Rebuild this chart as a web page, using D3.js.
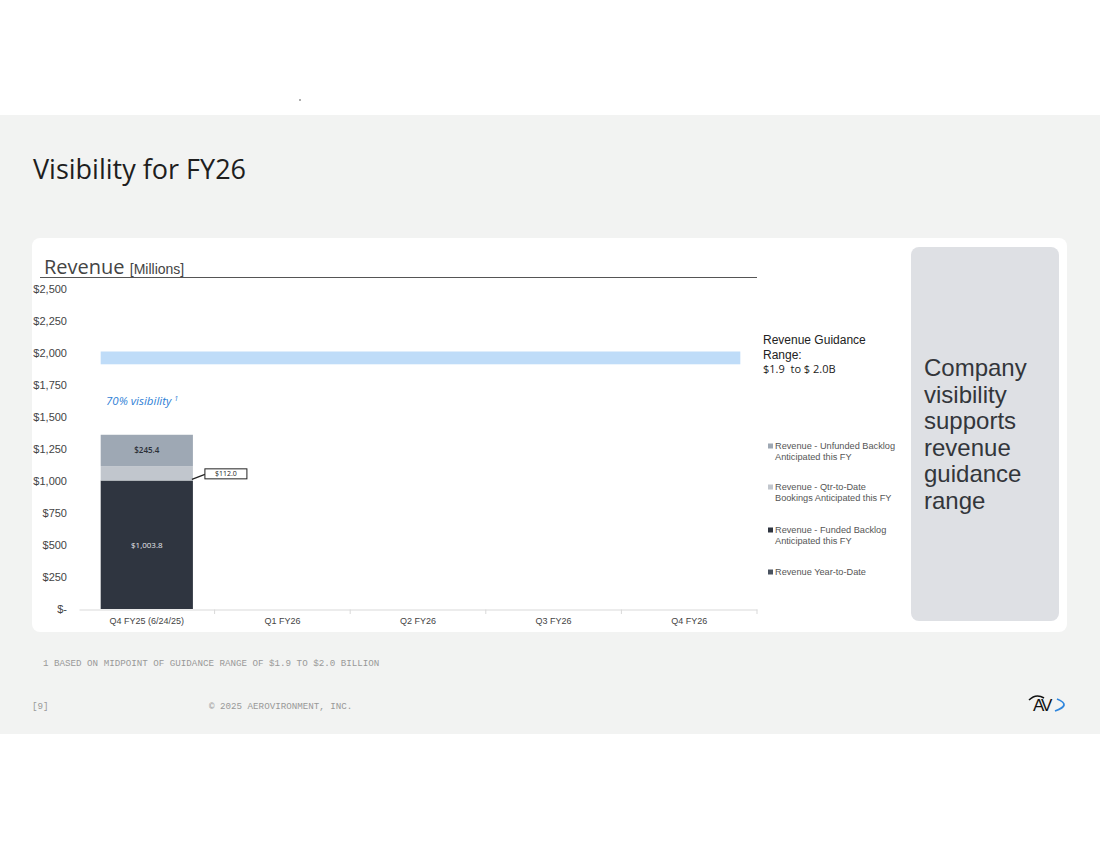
<!DOCTYPE html>
<html>
<head>
<meta charset="utf-8">
<script src="https://cdn.jsdelivr.net/npm/d3@7"></script>
<style>
  html, body { margin: 0; padding: 0; background: #fff; }
  svg { display: block; }
</style>
</head>
<body>
<div id="chart"></div>
<script>
// Revenue visibility for FY26 - stacked column with guidance band

const categories = ['Q4 FY25 (6/24/25)', 'Q1 FY26', 'Q2 FY26', 'Q3 FY26', 'Q4 FY26'];
const revenueYearToDate = [0, 0, 0, 0, 0];
const fundedBacklog = [1003.8, 0, 0, 0, 0];
const qtrBookings = [112.0, 0, 0, 0, 0];
const unfundedBacklog = [245.4, 0, 0, 0, 0];
const guidanceRange = [1900, 2000];
const yTicks = [0, 250, 500, 750, 1000, 1250, 1500, 1750, 2000, 2250, 2500];

const seriesInfo = [
    { key: 'ytd', name: 'Revenue Year-to-Date', values: revenueYearToDate, color: '#4a5360' },
    { key: 'funded', name: 'Revenue - Funded Backlog Anticipated this FY', values: fundedBacklog, color: '#2f3540' },
    { key: 'qtr', name: 'Revenue - Qtr-to-Date Bookings Anticipated this FY', values: qtrBookings, color: '#c1c6cd' },
    { key: 'unfunded', name: 'Revenue - Unfunded Backlog Anticipated this FY', values: unfundedBacklog, color: '#9ea8b4' }
];

const width = 1100;
const height = 849;
const arial = '"Liberation Sans", Arial, sans-serif';
const body = '"Open Sans", "Noto Sans", sans-serif';

const svg = d3.select('#chart')
    .append('svg')
    .attr('width', width)
    .attr('height', height);

// Page background bands
svg.append('rect').attr('x', 0).attr('y', 0).attr('width', width).attr('height', height).attr('fill', '#ffffff');
svg.append('rect').attr('x', 0).attr('y', 115).attr('width', width).attr('height', 619).attr('fill', '#f2f3f2');
svg.append('circle').attr('cx', 300).attr('cy', 100).attr('r', 0.7).attr('fill', '#222');

// Slide title
svg.append('text')
    .attr('x', 33)
    .attr('y', 179)
    .attr('font-family', body)
    .attr('font-size', '27px')
    .attr('fill', '#1e1e1e')
    .text('Visibility for FY26');

// White card
svg.append('rect')
    .attr('x', 32).attr('y', 238)
    .attr('width', 1035).attr('height', 394)
    .attr('rx', 8)
    .attr('fill', '#ffffff');

// Right side panel
svg.append('rect')
    .attr('x', 911).attr('y', 247)
    .attr('width', 148).attr('height', 374)
    .attr('rx', 8)
    .attr('fill', '#dee0e4');

const panelLines = ['Company', 'visibility', 'supports', 'revenue', 'guidance', 'range'];
const panelText = svg.append('text')
    .attr('x', 924)
    .attr('y', 376)
    .attr('font-family', arial)
    .attr('font-size', '24px')
    .attr('fill', '#33363b');
panelLines.forEach((t, i) => {
    panelText.append('tspan').attr('x', 924).attr('dy', i === 0 ? 0 : 26.5).text(t);
});

// Chart header
const header = svg.append('text')
    .attr('x', 44)
    .attr('y', 274)
    .attr('fill', '#444');
header.append('tspan')
    .attr('font-family', body)
    .attr('font-size', '20px')
    .text('Revenue ');
header.append('tspan')
    .attr('font-family', arial)
    .attr('font-size', '14px')
    .text('[Millions]');

svg.append('line')
    .attr('x1', 40).attr('x2', 757)
    .attr('y1', 277.5).attr('y2', 277.5)
    .attr('stroke', '#555')
    .attr('stroke-width', 1);

// Scales
const xScale = d3.scaleBand()
    .domain(categories)
    .range([79, 757])
    .paddingInner(0.32)
    .paddingOuter(0.16);

const yScale = d3.scaleLinear()
    .domain([0, 2500])
    .range([609, 289]);

const g = svg.append('g');

// Y axis (labels only)
const yAxis = g.append('g')
    .attr('transform', 'translate(67,0)')
    .attr('font-family', arial)
    .attr('font-size', 11)
    .call(d3.axisLeft(yScale)
        .tickValues(yTicks)
        .tickSize(0)
        .tickPadding(0)
        .tickFormat(d => d === 0 ? '$-' : '$' + d3.format(',')(d)));
yAxis.attr('font-family', arial).attr('font-size', 11);
yAxis.select('.domain').remove();
yAxis.selectAll('text').attr('fill', '#444');

// Guidance band
g.append('rect')
    .attr('x', xScale(categories[0]))
    .attr('width', xScale(categories[categories.length - 1]) + xScale.bandwidth() + 5 - xScale(categories[0]))
    .attr('y', yScale(guidanceRange[1]) - 1.5)
    .attr('height', yScale(guidanceRange[0]) - yScale(guidanceRange[1]))
    .attr('fill', '#bfdcf8');

// Stacked bars
const stackData = categories.map((c, i) => {
    const row = { category: c };
    seriesInfo.forEach(s => { row[s.key] = s.values[i]; });
    return row;
});
const stacked = d3.stack().keys(seriesInfo.map(s => s.key))(stackData);

stacked.forEach((layer, li) => {
    g.selectAll('.bar-' + layer.key)
        .data(layer)
        .enter()
        .append('rect')
        .attr('x', d => xScale(d.data.category))
        .attr('width', xScale.bandwidth())
        .attr('y', d => yScale(d[1]))
        .attr('height', d => yScale(d[0]) - yScale(d[1]))
        .attr('fill', seriesInfo[li].color);
});

// X axis
const xAxis = g.append('g')
    .attr('transform', 'translate(0,609.5)')
    .call(d3.axisBottom(xScale).tickSize(0).tickPadding(8));
xAxis.attr('font-family', arial).attr('font-size', 9);
xAxis.select('.domain').attr('stroke', '#d9d9d9');
xAxis.selectAll('text').attr('fill', '#444');
// Category separators
const sepPositions = categories.map((c, i) => 79 + (i + 1) * ((757 - 79) / categories.length));
g.selectAll('.sep')
    .data(sepPositions)
    .enter()
    .append('line')
    .attr('x1', d => d).attr('x2', d => d)
    .attr('y1', 609.5).attr('y2', 614)
    .attr('stroke', '#d9d9d9');

// Data labels
const c0 = categories[0];
const cx0 = xScale(c0) + xScale.bandwidth() / 2;
const fundedTop = revenueYearToDate[0] + fundedBacklog[0];
const qtrTop = fundedTop + qtrBookings[0];
const unfundedTop = qtrTop + unfundedBacklog[0];

g.append('text')
    .attr('x', cx0)
    .attr('y', yScale((revenueYearToDate[0] + fundedTop) / 2) + 3)
    .attr('text-anchor', 'middle')
    .attr('font-family', body)
    .attr('font-size', '8px')
    .attr('fill', '#e6e8ec')
    .text('$' + d3.format(',.1f')(fundedBacklog[0]));

g.append('text')
    .attr('x', cx0)
    .attr('y', yScale((qtrTop + unfundedTop) / 2) + 3)
    .attr('text-anchor', 'middle')
    .attr('font-family', body)
    .attr('font-size', '8px')
    .attr('font-weight', '600')
    .attr('fill', '#2b3038')
    .text('$' + d3.format(',.1f')(unfundedBacklog[0]));

// Callout for qtr-to-date bookings
const barRight = xScale(c0) + xScale.bandwidth();
const qMid = yScale((fundedTop + qtrTop) / 2);
g.append('line')
    .attr('x1', barRight - 1).attr('y1', qMid + 6)
    .attr('x2', barRight + 12).attr('y2', qMid + 1)
    .attr('stroke', '#222')
    .attr('stroke-width', 1.2);
g.append('rect')
    .attr('x', barRight + 12).attr('y', qMid - 4.5)
    .attr('width', 42).attr('height', 10)
    .attr('fill', '#fff')
    .attr('stroke', '#222')
    .attr('stroke-width', 1);
g.append('text')
    .attr('x', barRight + 33).attr('y', qMid + 3)
    .attr('text-anchor', 'middle')
    .attr('font-family', body)
    .attr('font-size', '7px')
    .attr('fill', '#222')
    .text('$' + d3.format(',.1f')(qtrBookings[0]));

// Visibility annotation
const vis = g.append('text')
    .attr('x', 106)
    .attr('y', 405)
    .attr('font-family', body)
    .attr('font-style', 'italic')
    .attr('font-size', '11.5px')
    .attr('fill', '#2f7fd6');
vis.append('tspan').text('70% visibility ');
vis.append('tspan').attr('font-size', '7px').attr('dy', -4).text('1');

// Guidance text
const gt = svg.append('text')
    .attr('font-family', arial)
    .attr('font-size', '12px')
    .attr('fill', '#222');
gt.append('tspan').attr('x', 763).attr('y', 344).text('Revenue Guidance');
gt.append('tspan').attr('x', 763).attr('y', 359).text('Range:');
svg.append('text')
    .attr('x', 763).attr('y', 373)
    .attr('font-family', body)
    .attr('font-size', '11px')
    .attr('fill', '#222')
    .style('white-space', 'pre')
    .text('$1.9  to $ 2.0B');

// Legend
const legendItems = seriesInfo.slice().reverse();
const legendLines = [
    ['Revenue - Unfunded Backlog', 'Anticipated this FY'],
    ['Revenue - Qtr-to-Date', 'Bookings Anticipated this FY'],
    ['Revenue - Funded Backlog', 'Anticipated this FY'],
    ['Revenue Year-to-Date']
];
const legendY = [449, 490, 533, 575];
legendItems.forEach((s, i) => {
    const row = svg.append('g').attr('transform', `translate(768, ${legendY[i]})`);
    row.append('rect')
        .attr('x', 0).attr('y', -5.5)
        .attr('width', 5).attr('height', 5)
        .attr('fill', s.color);
    const t = row.append('text')
        .attr('font-family', arial)
        .attr('font-size', '9.2px')
        .attr('fill', '#555');
    legendLines[i].forEach((line, j) => {
        t.append('tspan').attr('x', 7).attr('y', j * 11).text(line);
    });
});

// Footer
const mono = '"Liberation Mono", "DejaVu Sans Mono", monospace';
svg.append('text')
    .attr('x', 43).attr('y', 666)
    .attr('font-family', mono)
    .attr('font-size', '9.2px')
    .attr('fill', '#999')
    .text('1 BASED ON MIDPOINT OF GUIDANCE RANGE OF $1.9 TO $2.0 BILLION');
svg.append('text')
    .attr('x', 32).attr('y', 709)
    .attr('font-family', mono)
    .attr('font-size', '9.2px')
    .attr('fill', '#999')
    .text('[9]');
svg.append('text')
    .attr('x', 209).attr('y', 709)
    .attr('font-family', mono)
    .attr('font-size', '9.2px')
    .attr('fill', '#999')
    .text('\u00a9 2025 AEROVIRONMENT, INC.');

// Logo
svg.append('text')
    .attr('x', 1033).attr('y', 711)
    .attr('font-family', arial)
    .attr('font-size', '17px')
    .attr('letter-spacing', '-2px')
    .attr('fill', '#111')
    .text('AV');
svg.append('path')
    .attr('d', 'M1029,700 Q1036,693 1044,698')
    .attr('fill', 'none')
    .attr('stroke', '#111')
    .attr('stroke-width', 1.5);
svg.append('path')
    .attr('d', 'M1057,699 Q1072,705 1055,711')
    .attr('fill', 'none')
    .attr('stroke', '#2f86dd')
    .attr('stroke-width', 1.8);
</script>
</body>
</html>
